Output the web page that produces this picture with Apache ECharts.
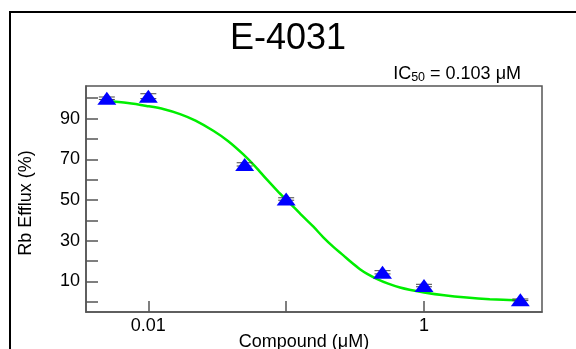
<!DOCTYPE html>
<html>
<head>
<meta charset="utf-8">
<script src="https://cdn.jsdelivr.net/npm/echarts@6/dist/echarts.min.js"></script>
<style>
  html, body { margin: 0; padding: 0; background: #fff; }
  #chart { width: 576px; height: 349px; }
</style>
</head>
<body>
<div id="chart"></div>
<script>
// measured points: concentration (µM) and Rb efflux (%)
const conc = [0.005, 0.01, 0.05, 0.1, 0.5, 1, 5]
const efflux = [100, 101, 67.5, 50.5, 14.5, 8, 1]
const effluxErr = [0.6, 1.2, 0.8, 0.6, 0.8, 0.6, 0.4]

// fitted curve
const fitConc = [0.00485, 0.0071, 0.0097, 0.013, 0.017, 0.022, 0.0296, 0.038, 0.0489, 0.06, 0.0723, 0.087, 0.1067, 0.13, 0.157, 0.186, 0.22, 0.26, 0.291, 0.343, 0.39, 0.454, 0.55, 0.67, 0.8, 1, 1.4, 2.04, 3, 5.02]
const fitEfflux = [98.7, 97.6, 96.2, 94.6, 92.2, 89.0, 84.0, 78.9, 72.4, 66.3, 60.1, 54.3, 48.4, 42.4, 37.0, 31.7, 27.0, 22.8, 19.9, 16.0, 13.6, 11.3, 8.9, 7.0, 5.8, 4.6, 3.2, 2.1, 1.3, 0.6]

const yTicks = [0, 10, 20, 30, 40, 50, 60, 70, 80, 90, 100]
const yLabels = [10, 30, 50, 70, 90]

const font = "'Liberation Sans', Arial, sans-serif"
const axisColor = '#555'

const chart = echarts.init(document.getElementById('chart'))

const option = {
  animation: false,
  grid: {
    left: 86, top: 86, right: 34, bottom: 37,
    outerBoundsMode: 'none',
    show: true,
    borderColor: axisColor,
    borderWidth: 1.5
  },
  graphic: [
    // outer frame, cut off by the picture's right and bottom edges
    {
      type: 'rect',
      shape: { x: 10, y: 12, width: 700, height: 500 },
      style: { fill: 'none', stroke: '#000', lineWidth: 2 },
      silent: true
    },
    {
      type: 'text',
      x: 288, y: 39,
      style: {
        text: 'E-4031',
        fontSize: 36,
        fontFamily: font,
        fill: '#000',
        align: 'center',
        verticalAlign: 'middle'
      }
    },
    {
      type: 'text',
      x: 521, y: 74,
      style: {
        text: '{n|IC}{s|50}{n| = 0.103 μM}',
        fontFamily: font,
        fill: '#000',
        align: 'right',
        verticalAlign: 'middle',
        rich: {
          n: { fontSize: 18, fontFamily: font },
          s: { fontSize: 12.5, fontFamily: font, padding: [8, 0, 0, 0] }
        }
      }
    }
  ],
  xAxis: {
    type: 'log',
    logBase: 10,
    min: 0.00353,
    max: 7.18,
    name: 'Compound (μM)',
    nameLocation: 'middle',
    nameGap: 21,
    nameMoveOverlap: false,
    nameTextStyle: { fontSize: 18, fontFamily: font, color: '#000', padding: [0, 20, 0, 0] },
    axisLine: { onZero: false, lineStyle: { color: axisColor, width: 1.5 } },
    axisTick: { inside: true, length: 11, lineStyle: { color: axisColor, width: 1.5 } },
    axisLabel: {
      fontSize: 18,
      fontFamily: font,
      color: '#000',
      margin: 5,
      showMinLabel: false,
      showMaxLabel: false,
      formatter: v => (Math.abs(Math.log10(v) + 1) < 1e-6 ? '' : String(+v.toPrecision(3)))
    },
    splitLine: { show: false }
  },
  yAxis: {
    type: 'value',
    min: -5,
    max: 106,
    name: 'Rb Efflux (%)',
    nameLocation: 'middle',
    nameGap: 51,
    nameMoveOverlap: false,
    nameTextStyle: { fontSize: 18, fontFamily: font, color: '#000', padding: [0, 8, 0, 0] },
    axisLine: { show: true, onZero: false, lineStyle: { color: axisColor, width: 1.5 } },
    axisTick: { inside: true, length: 12, customValues: yTicks, lineStyle: { color: axisColor, width: 1.5 } },
    axisLabel: { fontSize: 18, fontFamily: font, color: '#000', margin: 6, customValues: yLabels },
    splitLine: { show: false }
  },
  series: [
    {
      type: 'line',
      data: fitConc.map((c, i) => [c, fitEfflux[i]]),
      showSymbol: false,
      smooth: 0.3,
      lineStyle: { color: '#00ee00', width: 2.5 },
      z: 2
    },
    {
      type: 'custom',
      data: conc.map((c, i) => [c, efflux[i], effluxErr[i]]),
      renderItem: (params, api) => {
        const x = api.value(0)
        const y = api.value(1)
        const e = api.value(2)
        const hi = api.coord([x, y + e])
        const lo = api.coord([x, y - e])
        const w = 8
        const st = { stroke: '#444', lineWidth: 1 }
        return {
          type: 'group',
          children: [
            { type: 'line', shape: { x1: hi[0] - w, y1: hi[1], x2: hi[0] + w, y2: hi[1] }, style: st },
            { type: 'line', shape: { x1: lo[0] - w, y1: lo[1], x2: lo[0] + w, y2: lo[1] }, style: st }
          ]
        }
      },
      z: 3
    },
    {
      type: 'scatter',
      data: conc.map((c, i) => [c, efflux[i]]),
      symbol: 'triangle',
      symbolSize: [19, 13],
      itemStyle: { color: '#0000ff', opacity: 1 },
      z: 4
    }
  ]
}

chart.setOption(option)
</script>
</body>
</html>
